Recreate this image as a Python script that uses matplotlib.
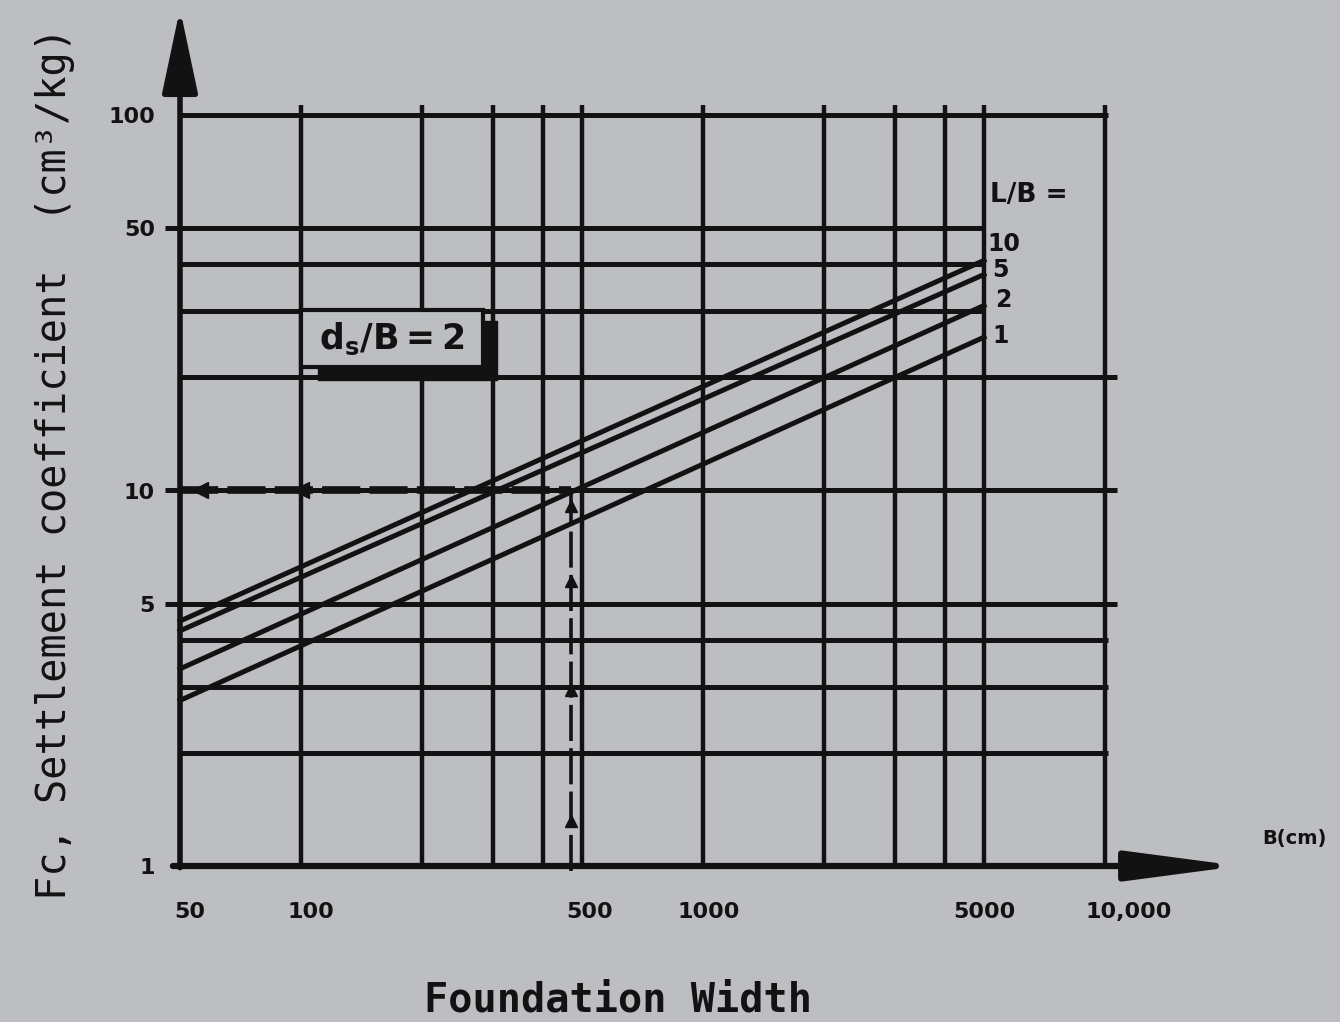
import matplotlib.pyplot as plt
from matplotlib.patches import Rectangle
from matplotlib.ticker import NullLocator
import matplotlib.transforms as mtransforms

# L/B ratios, with the settlement coefficient at each end of its line
ratios = ['10', '5', '2', '1']
width_ends = [50, 5000]
fc_at_50 = [4.49, 4.23, 3.35, 2.76]
fc_at_5000 = [41.0, 37.6, 31.1, 25.6]

# chart paper grid
x_grid = [100, 200, 300, 400, 500, 1000, 2000, 3000, 4000, 5000, 10000]
y_grid_long = [5, 10, 20]      # run a little past 10,000
y_grid_mid = [2, 3, 4, 100]    # stop at 10,000
y_grid_short = [30, 40, 50]    # stop at 5000
y_ticked = [5, 10, 50]

x_ticks = [50, 100, 500, 1000, 5000, 10000]
x_ticklabels = ['50', '100', '500', '1000', '5000', '10,000']
y_ticks = [1, 5, 10, 50, 100]
y_ticklabels = ['1', '5', '10', '50', '100']

# worked example for d_s/B = 2
example_width = 470
example_fc = 10

bg = '#bdbec2'
ink = '#121212'

fig = plt.figure(figsize=(13.4, 10.22), dpi=100, facecolor=bg)
ax = fig.add_axes([180 / 1340, 156 / 1022, 925 / 1340, 751 / 1022])
ax.set_facecolor(bg)
ax.set_xscale('log')
ax.set_yscale('log')
ax.set_xlim(50, 10000)
ax.set_ylim(1, 100)
for s in ax.spines.values():
    s.set_visible(False)

# grid
for x in x_grid:
    ax.plot([x, x], [1, 106], color=ink, lw=3.2, clip_on=False,
            solid_capstyle='butt', zorder=2)
for ys, xend in [(y_grid_long, 10700), (y_grid_mid, 10150), (y_grid_short, 5000)]:
    for y in ys:
        x0 = 46 if y in y_ticked else 50
        ax.plot([x0, xend], [y, y], color=ink, lw=3.6, clip_on=False,
                solid_capstyle='butt', zorder=2)

# axes with arrow heads
ax.annotate('', xy=(50, 192), xytext=(50, 0.99), annotation_clip=False,
            arrowprops=dict(arrowstyle='-|>,head_length=2.6,head_width=0.55',
                            mutation_scale=20, lw=4, color=ink, shrinkA=0, shrinkB=0))
ax.annotate('', xy=(21600, 1), xytext=(48, 1), annotation_clip=False,
            arrowprops=dict(arrowstyle='-|>,head_length=3.4,head_width=0.45',
                            mutation_scale=20, lw=4.5, color=ink, shrinkA=0, shrinkB=0))

# settlement coefficient lines
offsets = [(14, 12), (12, 3), (14, 4), (12, 1)]
for r, a, b, off in zip(ratios, fc_at_50, fc_at_5000, offsets):
    ax.plot(width_ends, [a, b], color=ink, lw=3.6, clip_on=False, zorder=3)
    ax.annotate(r, xy=(width_ends[1], b), xytext=off, textcoords='offset points',
                ha='center', va='center', fontsize=17, fontweight='bold', color=ink)
ax.text(0.918, 0.893, 'L/B =', transform=ax.transAxes, ha='center', va='center',
        fontsize=19, fontweight='bold', color=ink)

# d_s/B label box with heavy shadow
ax.add_patch(Rectangle((110, 19.7), 307 - 110, 28.3 - 19.7, fc=ink, ec=ink, zorder=4))
ax.add_patch(Rectangle((100, 21.3), 284 - 100, 30.2 - 21.3, fc=bg, ec=ink, lw=3, zorder=5))
ax.text(168, 25.3, r'$\mathbf{d_s / B = 2}$', ha='center', va='center',
        fontsize=25, color=ink, zorder=6)

# example reading path
ax.plot([50, example_width], [example_fc, example_fc], color=ink, lw=5.5,
        ls=(0, (5, 1.2)), zorder=3)
ax.plot([example_width, example_width], [0.97, example_fc], color=ink, lw=2.6,
        ls=(0, (10, 2)), clip_on=False, zorder=3)
for frac in [0.12, 0.47, 0.76, 0.96]:
    ax.plot(example_width, example_fc ** frac, marker='^', ms=9, color=ink, zorder=4)
for frac in [0.05, 0.31]:
    ax.plot(50 * (example_width / 50) ** frac, example_fc, marker='<', ms=12,
            color=ink, zorder=4)

# ticks and labels
ax.xaxis.set_minor_locator(NullLocator())
ax.yaxis.set_minor_locator(NullLocator())
ax.set_xticks(x_ticks, x_ticklabels)
ax.set_yticks(y_ticks, y_ticklabels)
ax.tick_params(length=0, labelsize=16, colors=ink)
ax.tick_params(axis='x', pad=26)
ax.tick_params(axis='y', pad=18)
for lab in ax.get_xticklabels() + ax.get_yticklabels():
    lab.set_fontweight('bold')
shifts = [10, 10, 8, 6, 0, 24]
for lab, dx in zip(ax.get_xticklabels(), shifts):
    lab.set_transform(lab.get_transform() +
                      mtransforms.ScaledTranslation(dx / 100, 0, fig.dpi_scale_trans))

ax.text(1.205, 0.037, 'B(cm)', transform=ax.transAxes, ha='center', va='center',
        fontsize=14, fontweight='bold', color=ink)
fig.text(618 / 1340, 1 - 1000 / 1022, 'Foundation Width', ha='center', va='center',
         fontsize=29, fontweight='bold', family='DejaVu Sans Mono', color=ink)
fig.text(55 / 1340, 1 - 463 / 1022,
         'Fc, Settlement coefficient  (cm³/kg)',
         rotation=90, ha='center', va='center', fontsize=29,
         family='DejaVu Sans Mono', color=ink)

fig.savefig('out.png', dpi=100, facecolor=bg)
